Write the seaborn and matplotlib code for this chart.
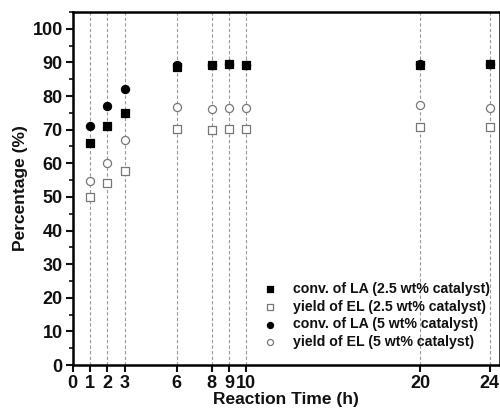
import matplotlib
matplotlib.use("Agg")
import matplotlib.pyplot as plt
import seaborn as sns
import pandas as pd
from matplotlib.ticker import MultipleLocator

sns.set_style("ticks")
plt.rcParams['font.family'] = ['Liberation Sans', 'DejaVu Sans']
plt.rcParams['font.weight'] = 'bold'
plt.rcParams['text.color'] = '#111111'
plt.rcParams['axes.labelcolor'] = '#111111'
plt.rcParams['xtick.color'] = '#111111'
plt.rcParams['ytick.color'] = '#111111'

times = [1, 2, 3, 6, 8, 9, 10, 20, 24]
conv_la_25 = [66.0, 71.0, 75.0, 88.5, 89.2, 89.5, 89.3, 89.3, 89.5]
yield_el_25 = [50.0, 54.0, 57.8, 70.2, 69.8, 70.3, 70.2, 70.8, 70.7]
conv_la_5 = [71.0, 77.0, 82.2, 89.2, 89.3, 89.6, 89.3, 89.5, 89.5]
yield_el_5 = [54.8, 60.2, 66.8, 76.8, 76.0, 76.3, 76.5, 77.2, 76.4]
xtick_vals = [0, 1, 2, 3, 6, 8, 9, 10, 20, 24]

series = [
    ("conv. of LA (2.5 wt% catalyst)", conv_la_25, "s", "black", "black"),
    ("yield of EL (2.5 wt% catalyst)", yield_el_25, "s", "white", "#777777"),
    ("conv. of LA (5 wt% catalyst)", conv_la_5, "o", "black", "black"),
    ("yield of EL (5 wt% catalyst)", yield_el_5, "o", "white", "#777777"),
]

fig = plt.figure(figsize=(5.0, 4.12), dpi=100)
ax = fig.add_axes([0.145, 0.114, 0.855, 0.857])

for t in times:
    ax.axvline(t, color="#999999", lw=0.8, ls=(0, (3, 2)), zorder=0)

for label, vals, mk, fc, ec in series:
    df = pd.DataFrame({"t": times, "v": vals})
    sns.scatterplot(data=df, x="t", y="v", marker=mk, s=28 if mk == "s" else 34,
                    facecolor=fc, edgecolor=ec, linewidth=0.9, label=label, ax=ax, zorder=3)

ax.set_xlim(0, 24.6)
ax.set_ylim(0, 105)
ax.set_xticks(xtick_vals)
ax.set_xticklabels([str(v) for v in xtick_vals])
ax.yaxis.set_major_locator(MultipleLocator(10))
ax.yaxis.set_minor_locator(MultipleLocator(5))
ax.tick_params(axis="both", which="major", direction="out", length=5, width=1.5,
               labelsize=13, pad=2)
ax.tick_params(axis="y", which="minor", direction="out", length=3, width=1.2)
for lab in ax.get_xticklabels() + ax.get_yticklabels():
    lab.set_fontweight("bold")

for side in ["left", "bottom", "top", "right"]:
    ax.spines[side].set_linewidth(1.8)
    ax.spines[side].set_color("black")

ax.set_xlabel("Reaction Time (h)", fontsize=12.5, fontweight="bold", labelpad=0)
ax.set_ylabel("Percentage (%)", fontsize=12.5, fontweight="bold", labelpad=3)

leg = ax.legend(loc="lower right", frameon=False, prop={"size": 10.2, "weight": "bold"},
                handletextpad=0.6, labelspacing=0.25, borderaxespad=0.0,
                markerscale=0.75, bbox_to_anchor=(0.99, 0.03))

fig.savefig("out.png", dpi=100)
